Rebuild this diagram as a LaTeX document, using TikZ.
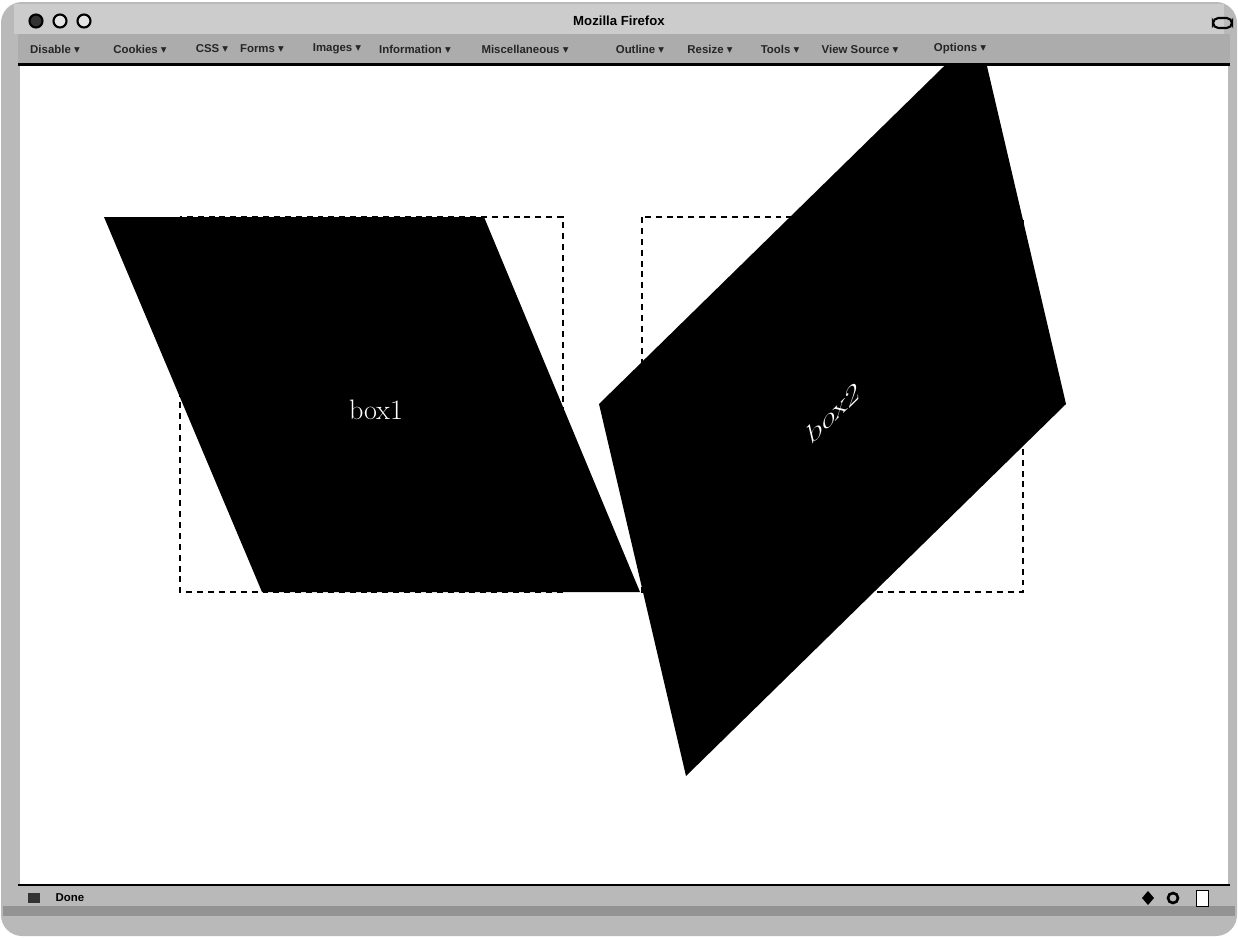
\documentclass[tikz,border=0pt]{standalone}
\usepackage{fontspec}
\newfontfamily\uifont{Liberation Sans}
\newfontfamily\symfont{DejaVu Sans}
\tikzset{
  menuitem/.style={font=\uifont\bfseries\fontsize{6.5}{7}\selectfont, text=black!85, inner sep=0pt},
  dashedbox/.style={draw=black, line width=1.1pt, dash pattern=on 3.4pt off 2.8pt},
}
\begin{document}
\begin{tikzpicture}[x=0.02cm,y=-0.02cm]
  \useasboundingbox (0,0) rectangle (1238,937);

  % Window frame
  \fill[white] (0,0) rectangle (1238,937);
  \fill[gray!55, rounded corners=12pt] (1,2) rectangle (1237,936);
  \fill[gray!85] (3,906) rectangle (1235,916);
  \fill[gray!40] (14,4) rectangle (1224,34);
  \fill[gray!65] (18,34) rectangle (1230,63);
  \fill[black] (18,63) rectangle (1230,66);

  % Title bar
  \filldraw[fill=black!80, draw=black, line width=1.2pt] (36,21) circle (6.5);
  \foreach \x in {60,84}
    \filldraw[fill=gray!20, draw=black, line width=1.2pt] (\x,21) circle (6.5);
  \node[font=\uifont\bfseries\fontsize{7.5}{8}\selectfont] (title) at (619,21) {Mozilla Firefox};
  \draw[line width=1.2pt, rounded corners=3pt] (1213,18) rectangle (1232,28);

  % Toolbar
  \foreach \lbl/\x in {Disable/55, Cookies/140, CSS/212, Forms/262, Images/337,
      Information/415, Miscellaneous/525, Outline/640, Resize/710, Tools/780,
      View Source/860, Options/960}
    \node[menuitem] at (\x,49) {\lbl\ {\symfont▾}};

  % Content area
  \fill[white] (20,66) rectangle (1228,885);

  % Status bar
  \fill[black] (18,884) rectangle (1230,886);
  \fill[gray!55] (18,886) rectangle (1230,906);
  \node[font=\uifont\bfseries\fontsize{6.5}{7}\selectfont] (status) at (70,898) {Done};
  \fill[black!80] (28,893) -- (40,893) -- (40,903) -- (28,903) -- cycle;
  \fill[black] (1142,898) -- (1148,891) -- (1154,898) -- (1148,905) -- cycle;
  \draw[line width=1.5pt] (1173,898) circle (5);
  \filldraw[fill=white, draw=black] (1196,890) rectangle (1208,906);

  % Box 1
  \coordinate (b1tl) at (104,217);
  \coordinate (b1tr) at (484,217);
  \coordinate (b1br) at (640,592);
  \coordinate (b1bl) at (262,592);
  \draw[dashedbox] (180,217) rectangle (563,592);
  \fill[black] (b1tl) -- (b1tr) -- (b1br) -- (b1bl) -- cycle;
  \node[text=white, font=\fontsize{16}{17}\selectfont] (box1) at (376,410) {box1};

  % Box 2
  \coordinate (b2l) at (599,404);
  \coordinate (b2t) at (979,32);
  \coordinate (b2r) at (1066,404);
  \coordinate (b2b) at (686,776);
  \draw[dashedbox] (642,217) rectangle (1023,592);
  \begin{scope}
    \clip (20,66) rectangle (1228,885);
    \fill[black] (b2l) -- (b2t) -- (b2r) -- (b2b) -- cycle;
  \end{scope}
  \begin{scope}[shift={(833,413)}, cm={0.995,0.974,-0.232,0.992,(0,0)}]
    \node[transform shape, text=white, font=\fontsize{15}{16}\selectfont] (box2) at (0,0) {box2};
  \end{scope}
\end{tikzpicture}
\end{document}
